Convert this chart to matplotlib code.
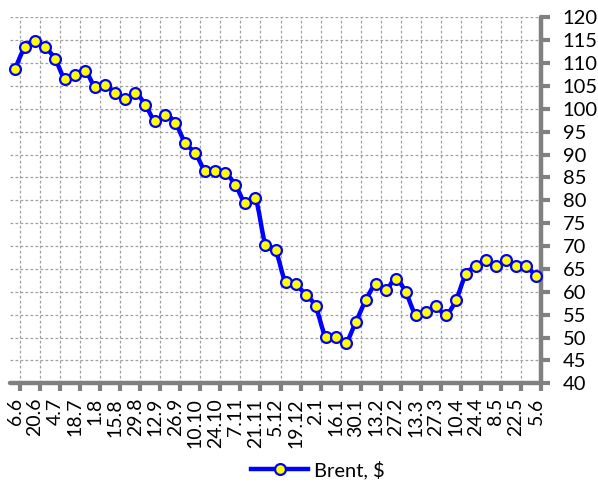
import numpy as np
import matplotlib
matplotlib.use('Agg')
import matplotlib.pyplot as plt
from matplotlib.path import Path
from matplotlib.patches import PathPatch
from matplotlib.lines import Line2D

plt.rcParams['font.family'] = ['Lato', 'DejaVu Sans']

dates = ['6.6', '13.6', '20.6', '27.6', '4.7', '11.7', '18.7', '25.7',
         '1.8', '8.8', '15.8', '22.8', '29.8', '5.9', '12.9', '19.9', '26.9',
         '3.10', '10.10', '17.10', '24.10', '31.10', '7.11', '14.11', '21.11',
         '28.11', '5.12', '12.12', '19.12', '26.12', '2.1', '9.1', '16.1',
         '23.1', '30.1', '6.2', '13.2', '20.2', '27.2', '6.3', '13.3', '20.3',
         '27.3', '3.4', '10.4', '17.4', '24.4', '1.5', '8.5', '15.5', '22.5',
         '29.5', '5.6']
brent = [108.7, 113.5, 114.8, 113.5, 110.9, 106.5, 107.4, 108.3,
         104.8, 105.2, 103.5, 102.1, 103.5, 100.9, 97.3, 98.7, 96.9,
         92.5, 90.3, 86.4, 86.4, 86.0, 83.3, 79.4, 80.4,
         70.3, 69.1, 62.1, 61.6, 59.4, 56.8, 50.2, 50.2,
         48.9, 53.3, 58.1, 61.6, 60.3, 62.9, 59.9, 55.0, 55.5,
         56.8, 55.0, 58.1, 63.8, 65.6, 66.9, 65.6, 66.9, 65.6,
         65.6, 63.4]
series_name = 'Brent, $'
y_ticks = list(range(40, 121, 5))

BLUE = '#0000FF'
YELLOW = '#FFFF00'
GREY = '#808080'

fig = plt.figure(figsize=(5.98, 4.84), dpi=100)
ax = fig.add_axes([10 / 598, 1 - 383.3 / 484, 531 / 598, 366 / 484])

x = np.arange(len(brent))
y = np.array(brent, dtype=float)

# smooth line (Catmull-Rom as cubic Bezier) through the data points
verts = [(x[0], y[0])]
codes = [Path.MOVETO]
n = len(x)
for i in range(n - 1):
    p0 = np.array([x[max(i - 1, 0)], y[max(i - 1, 0)]])
    p1 = np.array([x[i], y[i]])
    p2 = np.array([x[i + 1], y[i + 1]])
    p3 = np.array([x[min(i + 2, n - 1)], y[min(i + 2, n - 1)]])
    c1 = p1 + (p2 - p0) / 6.0
    c2 = p2 - (p3 - p1) / 6.0
    verts += [tuple(c1), tuple(c2), tuple(p2)]
    codes += [Path.CURVE4] * 3
patch = PathPatch(Path(verts, codes), facecolor='none', edgecolor=BLUE,
                  lw=3.2, zorder=3, capstyle='round', joinstyle='round')
ax.add_patch(patch)
ax.plot(x, y, linestyle='none', marker='o', markersize=7.8,
        markerfacecolor=YELLOW, markeredgecolor=BLUE, markeredgewidth=1.6,
        zorder=4, clip_on=False)

ax.set_xlim(-0.5, len(brent) - 0.5)
ax.set_ylim(40, 120)

# axes styling
for s in ['left', 'top']:
    ax.spines[s].set_visible(False)
for s in ['right', 'bottom']:
    ax.spines[s].set_color(GREY)
    ax.spines[s].set_linewidth(3.2)
    ax.spines[s].set_capstyle('round')

ax.yaxis.tick_right()
ax.set_yticks(y_ticks)
ax.set_yticklabels([str(v) for v in y_ticks])
ax.tick_params(axis='y', which='major', direction='out', length=6.5,
               width=3, color=GREY, pad=9, labelsize=14.5, labelcolor='black')

major_x = np.arange(0.5, len(brent), 2)
ax.set_xticks(major_x)
ax.set_xticklabels([''] * len(major_x))
ax.set_xticks(x[::2], [dates[i] for i in x[::2]], minor=True)
ax.tick_params(axis='x', which='major', direction='out', length=6,
               width=3, color=GREY)
ax.tick_params(axis='x', which='minor', length=0, pad=10.5,
               labelsize=14, labelrotation=90, labelcolor='black')

ax.grid(True, which='major', axis='both', color='#a0a0a0',
        linestyle=(0, (2.2, 1.8)), linewidth=0.9, zorder=0)
ax.set_axisbelow(True)

handle = Line2D([], [], color=BLUE, lw=3.2, marker='o', markersize=7.8,
                markerfacecolor=YELLOW, markeredgecolor=BLUE,
                markeredgewidth=1.6)
fig.legend([handle], [series_name], loc='center',
           bbox_to_anchor=(318 / 598, 1 - 470 / 484), frameon=False,
           fontsize=14.5, handlelength=2.8, handletextpad=0.3,
           borderpad=0, borderaxespad=0)

fig.savefig('out.png', dpi=100)
